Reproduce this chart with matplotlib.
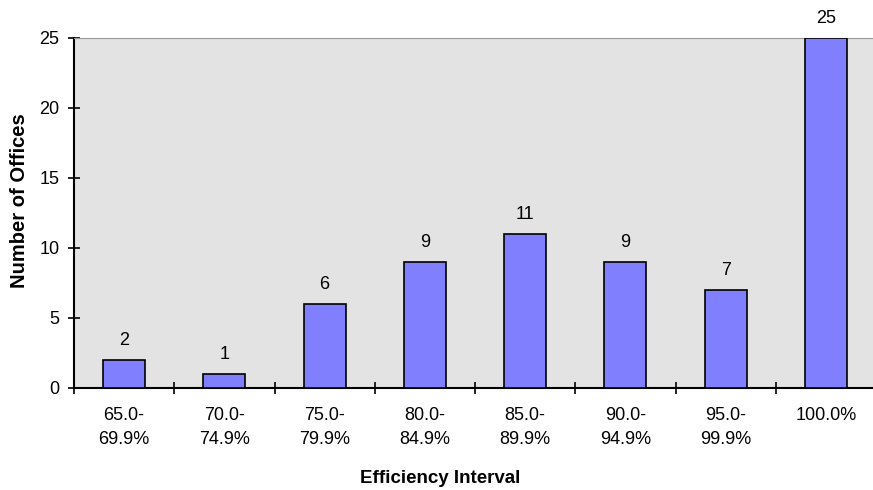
import numpy as np
import matplotlib.pyplot as plt

plt.rcParams['font.family'] = ['Liberation Sans', 'DejaVu Sans']

categories = ['65.0-\n69.9%', '70.0-\n74.9%', '75.0-\n79.9%', '80.0-\n84.9%',
              '85.0-\n89.9%', '90.0-\n94.9%', '95.0-\n99.9%', '100.0%']
offices = [2, 1, 6, 9, 11, 9, 7, 25]

W, H = 873, 490
fig = plt.figure(figsize=(W/100, H/100), dpi=100)
# plot area runs a little past the right edge of the picture (chart is cropped)
ax = fig.add_axes([74/W, 1 - 388/H, 802/W, 350/H])
ax.set_facecolor('#e3e3e3')

x = np.arange(len(offices))
ax.bar(x, offices, width=0.42, color='#8080ff', edgecolor='black', linewidth=1.2, zorder=3)
for xi, v in zip(x, offices):
    ax.text(xi, v + 1.05, str(v), ha='center', va='baseline', fontsize=13)

ax.set_xlim(-0.5, len(offices) - 0.5)
ax.set_ylim(0, 25)
ax.set_yticks([0, 5, 10, 15, 20, 25])
ax.set_xticks(np.arange(-0.5, len(offices), 1.0))
ax.set_xticklabels([])
ax.set_xticks(x, minor=True)
ax.set_xticklabels(categories, minor=True, fontsize=13, linespacing=1.5, va='top')
ax.tick_params(axis='x', which='minor', length=0, pad=14)
ax.tick_params(axis='x', which='major', direction='inout', length=9, width=1.2)
ax.tick_params(axis='y', direction='inout', length=9, width=1.2, labelsize=13, pad=6)

ax.spines['top'].set_color('#999999')
ax.spines['right'].set_visible(False)
ax.spines['left'].set_linewidth(1.5)
ax.spines['bottom'].set_linewidth(1.5)

fig.text(440/W, 1 - 478/H, 'Efficiency Interval', fontweight='bold', fontsize=13.5,
         ha='center', va='center')
fig.text(19.5/W, 1 - 201/H, 'Number of Offices', fontweight='bold', fontsize=14.5,
         ha='center', va='center', rotation=90)

fig.savefig('out.png', dpi=100)
